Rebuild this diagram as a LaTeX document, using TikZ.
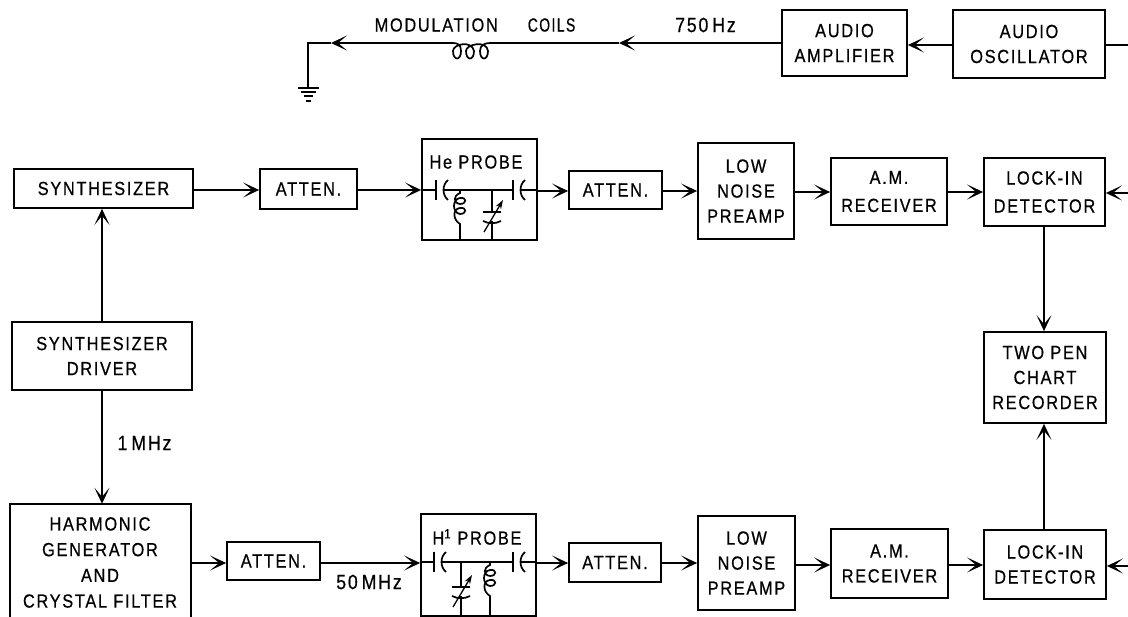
\documentclass[tikz,border=0pt]{standalone}
\usepackage{fontspec}
\usepackage{graphicx}
\setmainfont[LetterSpace=9,FakeStretch=0.86,FakeBold=0.6]{Liberation Sans}
\usetikzlibrary{arrows.meta}
\tikzset{
  x=1pt,y=-1pt,
  box/.style={draw,line width=1.8pt,align=center,inner sep=0pt,font=\fontsize{19}{25}\selectfont},
  lbl/.style={inner sep=0pt,align=center,font=\fontsize{19}{25}\selectfont},
  freq/.style={inner sep=0pt,font=\fontsize{20.5}{25}\selectfont},
  wire/.style={line width=1.6pt},
  conn/.style={line width=1.6pt,-{Stealth[length=16pt,width=15pt,inset=9pt]}},
  comp/.style={line width=1.7pt}
}
\newcommand{\bx}[6]{\node[box,minimum width={(#4-#2)*1pt},minimum height={(#5-#3)*1pt}] (#1) at ({(#2+#4)/2},{(#3+#5)/2}) {#6};}
\newcommand{\capac}[2]{%
  \draw[comp] (#1,#2-10) -- (#1,#2+10);
  \draw[comp] (#1+12,#2-10) .. controls (#1+6,#2-5) and (#1+6,#2+5) .. (#1+12,#2+10);}
\newcommand{\vcoil}[3]{% x, top y, bottom y
  \draw[comp] (#1,#2) -- (#1,#2+3) .. controls (#1-7,#2+6) and (#1-7,#2+13) .. (#1,#2+14)
     .. controls (#1+7,#2+14) and (#1+7,#2+7) .. (#1,#2+8)
     .. controls (#1-8,#2+9) and (#1-8,#2+23) .. (#1,#2+24)
     .. controls (#1+7,#2+24) and (#1+7,#2+17) .. (#1,#2+18)
     .. controls (#1-8,#2+19) and (#1-7,#2+30) .. (#1,#2+34) -- (#1,#3);}
\newcommand{\varcap}[2]{% x, y of flat plate
  \draw[comp] (#1-9,#2) -- (#1+9,#2);
  \draw[comp] (#1-9,#2+9) .. controls (#1-3,#2+12) and (#1+3,#2+12) .. (#1+9,#2+9);
  \draw[line width=1.3pt,-{Stealth[length=9pt,width=6pt]}] (#1-8,#2+20) -- (#1+11,#2-12);}
\begin{document}
\begin{tikzpicture}
\useasboundingbox (0,0) rectangle (1128,617);
\fill[white] (0,0) rectangle (1128,617);
% top row
\bx{amp}{782}{10}{907}{76}{AUDIO\\AMPLIFIER}
\bx{osc}{953}{10}{1105}{78}{AUDIO\\OSCILLATOR}
\coordinate (gnd) at (308,88);
\coordinate (corner) at (308,43);
\node[lbl] (modlbl) at (475,25) {MODULATION\hspace{30pt}\scalebox{0.85}[1]{COILS}};
\node[freq] (hzlbl) at (705.5,25) {750\hspace{4pt}Hz};
\coordinate (coilR) at (490,43);
\coordinate (coilL) at (453,43);
\coordinate (midA) at (619,43);
\coordinate (midB) at (331,43);
\draw[conn] (amp.west |- midA) -- (midA);
\draw[wire] (midA) -- (coilR);
\draw[conn] (coilL) -- (midB);
\draw[wire] (midB) -- (corner) -- (gnd);
\draw[comp] (coilL) .. controls (458,43) and (461,45) .. (461,51) .. controls (461,61) and (453,61) .. (453,51) .. controls (453,44) and (472,40) .. (474,51)
  .. controls (474,61) and (466,61) .. (466,51) .. controls (466,44) and (487,40) .. (488,51) .. controls (488,61) and (480,61) .. (480,51) .. controls (480,45) and (485,43) .. (coilR);
\draw[line width=1.7pt] (298,88) -- (319,88);
\draw[line width=1.6pt] (301,92) -- (316,92);
\draw[line width=1.6pt] (304,96) -- (313,96);
\draw[line width=2pt] (306,101) -- (311,101);
\coordinate (rowT) at (0,45);
\coordinate (stub) at (1128,45);
\draw[conn] (osc.west |- rowT) -- (amp.east |- rowT);
\draw[wire] (stub) -- (osc.east |- rowT);
% he row
\bx{syn}{14}{169}{193}{208}{SYNTHESIZER}
\bx{at1}{260}{169}{357}{209}{ATTEN.}
\bx{hep}{422}{139}{537}{240}{}
\node[lbl] (heplbl) at (476,162) {He PROBE};
\bx{at2}{569}{171}{662}{209}{ATTEN.}
\bx{lna1}{698}{143}{794}{239}{LOW\\NOISE\\PREAMP}
\bx{am1}{831}{158}{947}{225}{A.M.\\[3pt]RECEIVER}
\bx{li1}{984}{158}{1105}{226}{LOCK-IN\\[3pt]DETECTOR}
\coordinate (rowA) at (0,190);
\coordinate (rowAb) at (0,191);
\coordinate (rowAc) at (0,192);
\coordinate (r1) at (1128,193);
\draw[conn] (syn.east |- rowA) -- (at1.west |- rowA);
\draw[conn] (at1.east |- rowA) -- (hep.west |- rowA);
\draw[conn] (hep.east |- rowAb) -- (at2.west |- rowAb);
\draw[conn] (at2.east |- rowAb) -- (lna1.west |- rowAb);
\draw[conn] (lna1.east |- rowAc) -- (am1.west |- rowAc);
\draw[conn] (am1.east |- rowAc) -- (li1.west |- rowAc);
\draw[conn] (r1) -- (li1.east |- r1);
% he probe internals
\draw[wire] (422,190) -- (436,190);
\capac{436}{190}
\draw[wire] (444,190) -- (513,190);
\capac{513}{190}
\draw[wire] (521,190) -- (537,190);
\vcoil{460}{190}{240}
\draw[wire] (492,190) -- (492,212);
\varcap{492}{212}
\draw[wire] (492,221) -- (492,240);
% left column
\bx{drv}{12}{322}{192}{390}{SYNTHESIZER\\DRIVER}
\node[minimum width=181pt,minimum height=113pt,inner sep=0pt] (hg) at (100.5,560.5) {};
\node[lbl,font=\fontsize{19}{25.7}\selectfont] (hgt) at (100,562.5) {HARMONIC\\GENERATOR\\AND\\CRYSTAL FILTER};
\draw[line width=1.8pt] (hg.south west) -- (hg.north west) -- (hg.north east) -- (hg.south east);
\coordinate (colL) at (102,300);
\draw[conn] (drv.north -| colL) -- (syn.south -| colL);
\draw[conn] (drv.south -| colL) -- (hg.north -| colL);
\node[freq] (mhz) at (144.5,443) {1\hspace{4pt}MHz};
% right column
\bx{rec}{984}{332}{1106}{423}{TWO PEN\\CHART\\RECORDER}
\bx{li2}{984}{530}{1106}{599}{LOCK-IN\\DETECTOR}
\coordinate (colR) at (1044,300);
\draw[conn] (li1.south -| colR) -- (rec.north -| colR);
\draw[conn] (li2.north -| colR) -- (rec.south -| colR);
% H row
\bx{at3}{227}{542}{320}{580}{ATTEN.}
\bx{hp}{421}{514}{536}{616}{}
\node[lbl] (hplbl) at (477,537) {H\textsuperscript{1} PROBE};
\bx{at4}{569}{543}{661}{582}{ATTEN.}
\bx{lna2}{698}{516}{795}{610}{LOW\\NOISE\\PREAMP}
\bx{am2}{831}{529}{948}{598}{A.M.\\RECEIVER}
\node[freq] (mhz2) at (369,582) {50\hspace{4pt}MHz};
\coordinate (rowB) at (0,563);
\coordinate (rowC) at (0,565);
\coordinate (r2) at (1128,566);
\draw[conn] (hg.east |- rowB) -- (at3.west |- rowB);
\draw[conn] (at3.east |- rowB) -- (hp.west |- rowB);
\draw[conn] (hp.east |- rowB) -- (at4.west |- rowB);
\draw[conn] (at4.east |- rowB) -- (lna2.west |- rowB);
\draw[conn] (lna2.east |- rowC) -- (am2.west |- rowC);
\draw[conn] (am2.east |- rowC) -- (li2.west |- rowC);
\draw[conn] (r2) -- (li2.east |- r2);
% H probe internals
\draw[wire] (421,562) -- (434,562);
\capac{434}{562}
\draw[wire] (442,562) -- (513,562);
\capac{513}{562}
\draw[wire] (521,562) -- (536,562);
\draw[wire] (461,562) -- (461,587);
\varcap{461}{587}
\draw[wire] (461,596) -- (461,616);
\vcoil{490}{562}{616}
\end{tikzpicture}
\end{document}
